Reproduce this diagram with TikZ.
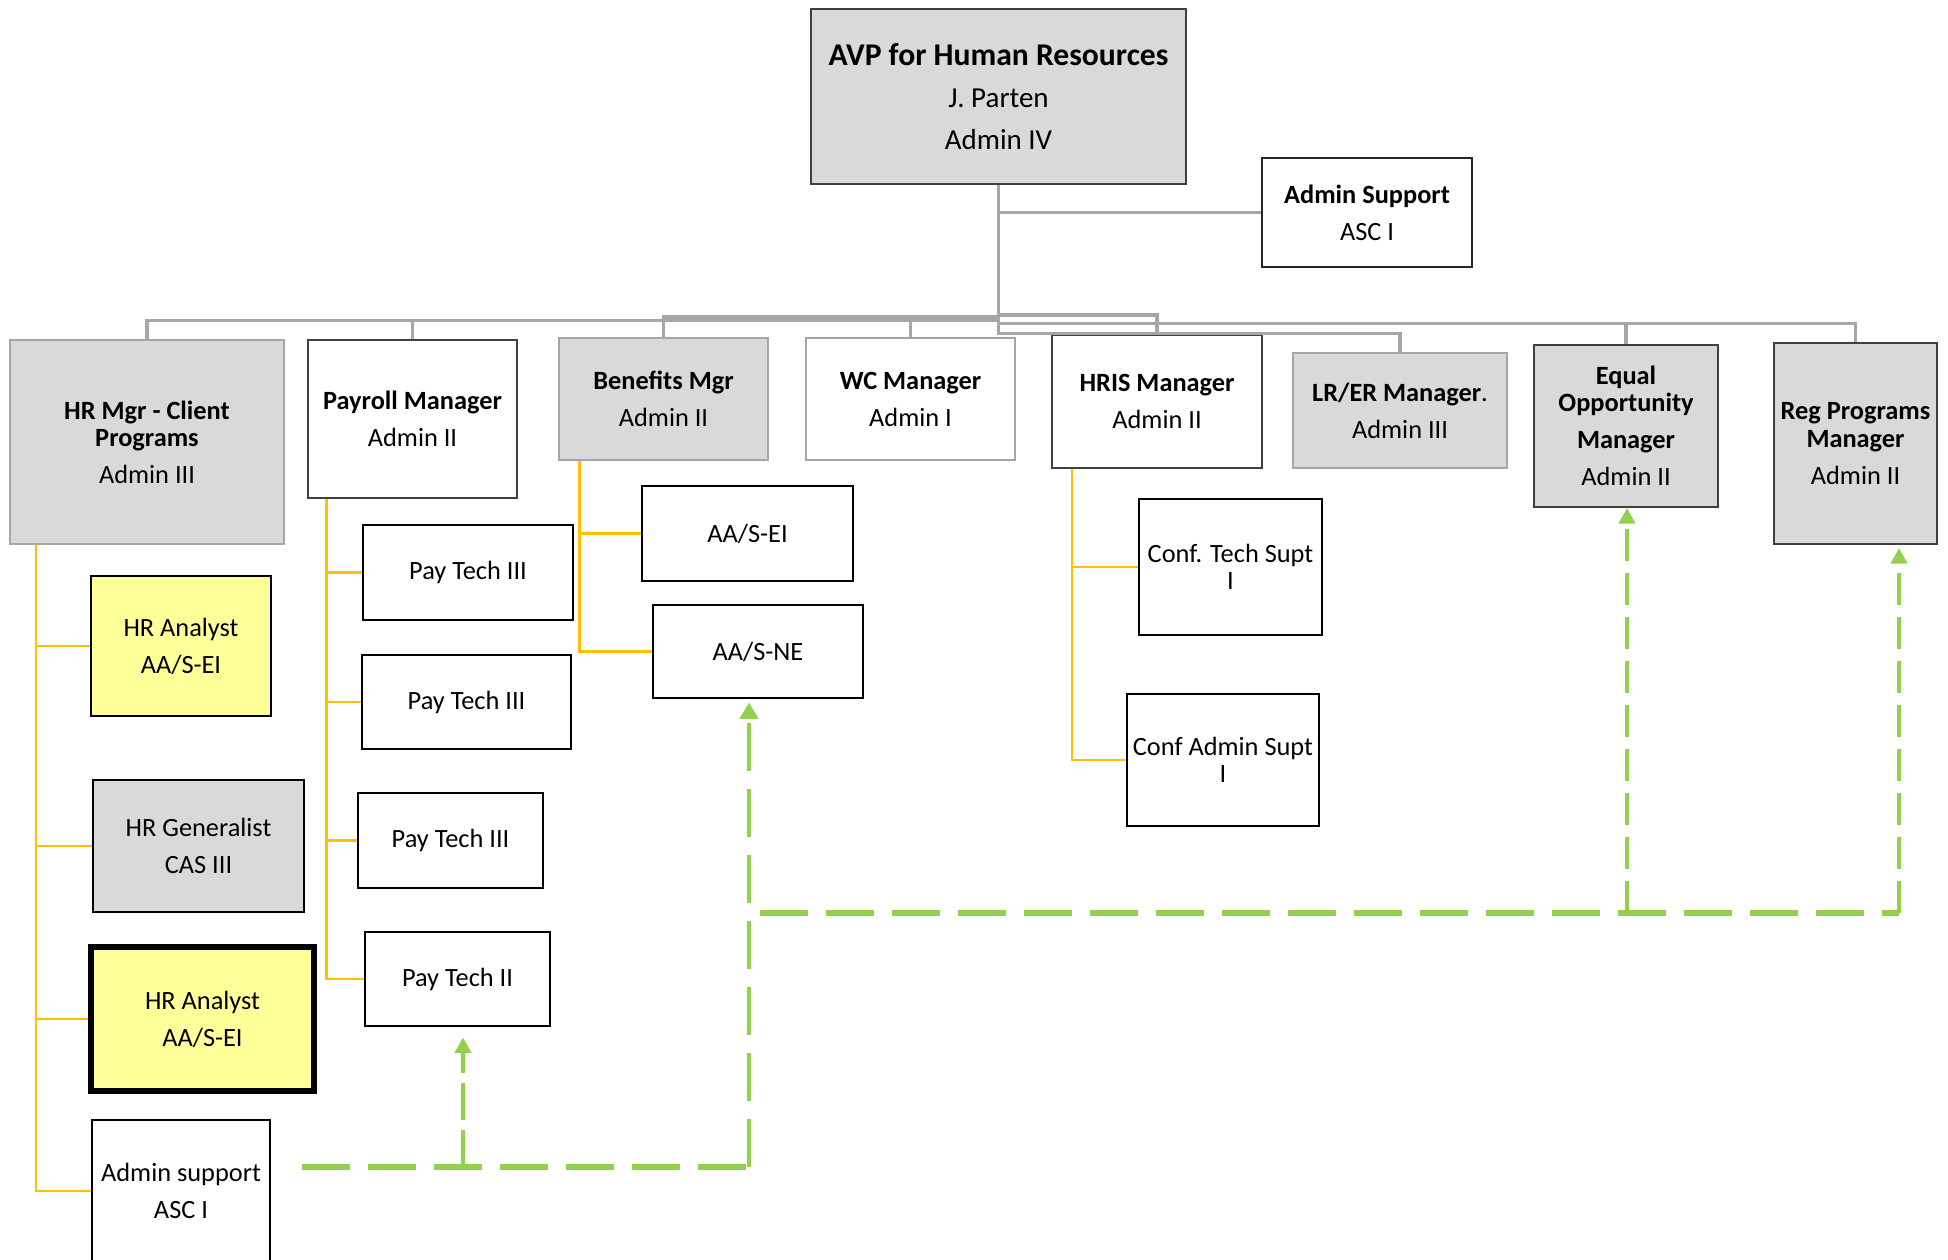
\documentclass[tikz,border=0pt]{standalone}
\usepackage{fontspec}
\setmainfont{Carlito}
\usetikzlibrary{arrows.meta}

\definecolor{boxgray}{RGB}{217,217,217}
\definecolor{linegray}{RGB}{166,166,166}
\definecolor{edgegray}{RGB}{64,64,64}
\definecolor{gold}{RGB}{255,192,0}
\definecolor{leaf}{RGB}{146,208,80}
\definecolor{pale}{RGB}{255,255,153}

\begin{document}
\begin{tikzpicture}[x=0.1mm, y=-0.1mm,
    box/.style={draw=black, line width=0.8pt, fill=white, inner sep=0pt, align=center,
        font=\fontsize{7.5}{7.75}\selectfont},
    head/.style={box, line width=0.6pt},
    greybox/.style={fill=boxgray},
    bus/.style={draw=linegray, line width=0.9pt},
    sub/.style={draw=gold, line width=0.7pt},
    link/.style={draw=leaf, line width=1.7pt, dash pattern=on 4.8mm off 1.8mm},
    uplink/.style={draw=leaf, line width=1.15pt, dash pattern=on 3.2mm off 1.2mm,
        -{Triangle[length=1.55mm,width=1.6mm]}}]
    \useasboundingbox (0,0) rectangle (1948,1259);

    \node[head, greybox, draw=edgegray, minimum width=37.5mm, minimum height=17.5mm,
        font=\fontsize{8.25}{9.5}\selectfont] (1) at (998.5,96.5)
        {\textbf{\fontsize{9}{9.5}\selectfont AVP for Human Resources}\\[2.4pt]J. Parten\\[2.4pt]Admin IV};
    \node[head, draw=black!85, minimum width=21mm, minimum height=10.9mm] (2) at (1367,212.5)
        {\textbf{Admin Support}\\[2.8pt]ASC I};

    \node[head, greybox, draw=linegray, minimum width=27.4mm, minimum height=20.4mm] (3) at (147,442)
        {\textbf{HR Mgr - Client}\\\textbf{Programs}\\[2.8pt]Admin III};
    \node[head, draw=edgegray, minimum width=20.9mm, minimum height=15.8mm] (4) at (412.5,419)
        {\textbf{Payroll Manager}\\[2.8pt]Admin II};
    \node[head, greybox, draw=linegray, minimum width=20.9mm, minimum height=12.2mm] (5) at (663.5,399)
        {\textbf{Benefits Mgr}\\[2.8pt]Admin II};
    \node[head, draw=linegray, minimum width=20.9mm, minimum height=12.2mm] (6) at (910.5,399)
        {\textbf{WC Manager}\\[2.8pt]Admin I};
    \node[head, draw=edgegray, minimum width=21mm, minimum height=13.3mm] (7) at (1157,401.5)
        {\textbf{HRIS Manager}\\[2.8pt]Admin II};
    \node[head, greybox, draw=linegray, minimum width=21.4mm, minimum height=11.5mm] (8) at (1400,410.5)
        {\textbf{LR/ER Manager}.\\[2.8pt]Admin III};
    \node[head, greybox, draw=edgegray, minimum width=18.4mm, minimum height=16.2mm] (9) at (1626,426)
        {\textbf{Equal}\\\textbf{Opportunity}\\[2.8pt]\textbf{Manager}\\[2.8pt]Admin II};
    \node[head, greybox, draw=edgegray, minimum width=16.3mm, minimum height=20.1mm] (10) at (1855.5,443.5)
        {\textbf{Reg Programs}\\\textbf{Manager}\\[2.8pt]Admin II};

    \node[box, fill=pale, minimum width=18mm, minimum height=14mm] (11) at (181,646)
        {HR Analyst\\[2.8pt]AA/S-EI};
    \node[box, greybox, minimum width=21.1mm, minimum height=13.2mm] (12) at (198.5,846)
        {HR Generalist\\[2.8pt]CAS III};
    \node[box, fill=pale, line width=1.5pt, minimum width=22.3mm, minimum height=14.4mm] (13) at (202.5,1019)
        {HR Analyst\\[2.8pt]AA/S-EI};
    \node[box, minimum width=17.8mm, minimum height=14.2mm] (14) at (181,1191)
        {Admin support\\[2.8pt]ASC I};

    \node[box, minimum width=21mm, minimum height=9.5mm] (15) at (468,572.5) {Pay Tech III};
    \node[box, minimum width=20.9mm, minimum height=9.4mm] (16) at (466.5,702) {Pay Tech III};
    \node[box, minimum width=18.5mm, minimum height=9.5mm] (17) at (450.5,840.5) {Pay Tech III};
    \node[box, minimum width=18.5mm, minimum height=9.4mm] (18) at (457.5,979) {Pay Tech II};

    \node[box, minimum width=21.1mm, minimum height=9.5mm] (19) at (747.5,533.5) {AA/S-EI};
    \node[box, minimum width=21mm, minimum height=9.3mm] (20) at (758,651.5) {AA/S-NE};

    \node[box, minimum width=18.3mm, minimum height=13.6mm] (21) at (1230.5,567) {Conf. Tech Supt\\I};
    \node[box, minimum width=19.2mm, minimum height=13.2mm] (22) at (1223,760) {Conf Admin Supt\\I};

    \draw[bus] (1.south) |- (2.west);
    \draw[bus] (1.south) -- ++(0,135.5) -| (3.north);
    \draw[bus] (1.south) -- ++(0,135.5) -| (4.north);
    \draw[bus] (1.south) -- ++(0,132) -| (5.north);
    \draw[bus] (1.south) -- ++(0,132) -| (6.north);
    \draw[bus] (1.south) -- ++(0,130) -| (7.north);
    \draw[bus] (1.south) -- ++(0,148.7) -| (8.north);
    \draw[bus] (1.south) -- ++(0,138.3) -| (9.north);
    \draw[bus] (1.south) -- ++(0,138.3) -| (10.north);

    \foreach \k in {11,12,13,14}
        \draw[sub] (3.south west) ++(27,0) |- (\k.west);
    \foreach \k in {15,16,17,18}
        \draw[sub] (4.south west) ++(19.5,0) |- (\k.west);
    \foreach \k in {19,20}
        \draw[sub] (5.south west) ++(21.6,0) |- (\k.west);
    \foreach \k in {21,22}
        \draw[sub] (7.south west) ++(21,0) |- (\k.west);

    \coordinate (a) at (302,1166.5);
    \coordinate (b) at (749,1166.5);
    \coordinate (c) at (463,1166.5);
    \coordinate (d) at (760,913);
    \coordinate (e) at (1627,913);
    \coordinate (f) at (1899,913);

    \draw[link] (a) -- (b);
    \draw[link, line width=1.4pt, -{Triangle[length=1.65mm,width=1.8mm]}, shorten >=0.3mm] (b) -- (b |- 20.south);
    \draw[uplink, dash pattern=on 3.7mm off 1mm, shorten >=1mm] (c) -- (c |- 18.south);
    \draw[link] (d) -- (f);
    \draw[uplink] (e) -- (e |- 9.south);
    \draw[uplink, shorten >=0.3mm] (f) -- (f |- 10.south);
\end{tikzpicture}
\end{document}
